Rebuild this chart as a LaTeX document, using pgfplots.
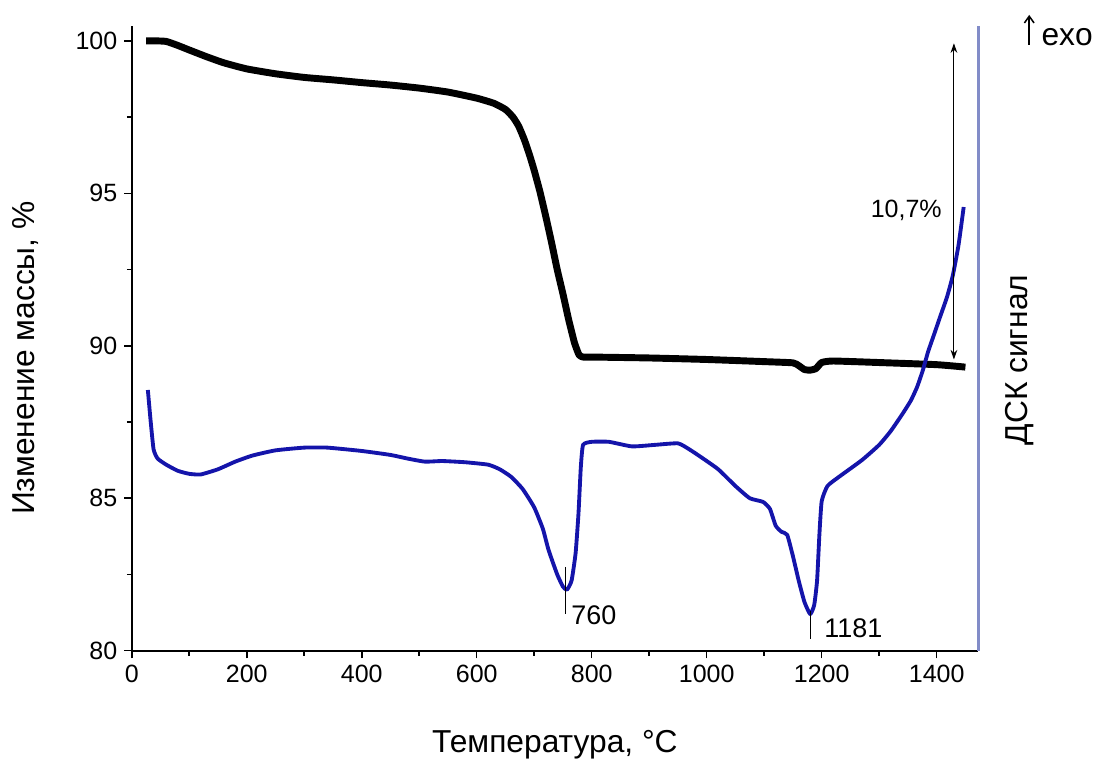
\documentclass[border=0pt]{standalone}
\usepackage{pgfplots}
\pgfplotsset{compat=1.18}
\usetikzlibrary{arrows.meta}
\usepackage{fontspec}
\setmainfont{Liberation Sans}
\definecolor{dscblue}{RGB}{20,20,170}
\definecolor{rightc}{RGB}{130,140,200}
\begin{document}
\begin{tikzpicture}
\begin{axis}[
 scale only axis, width=440pt, height=325pt,
 xmin=0, xmax=1472, ymin=80, ymax=100.5,
 axis x line*=bottom, axis y line*=left,
 axis line style={line width=1pt, -},
 xtick={0,200,...,1400}, ytick={80,85,...,100},
 minor xtick={100,300,...,1300}, minor ytick={82.5,87.5,92.5,97.5},
 tick align=outside, major tick length=4pt, minor tick length=2.5pt,
 every tick/.style={black, line width=0.8pt},
 tick label style={font=\fontsize{13}{15}\selectfont},
 /pgf/number format/assume math mode=true,
 /pgf/number format/set thousands separator={},
 clip=false,
 xlabel={Температура, °C}, ylabel={Изменение массы, \%},
 label style={font=\fontsize{16.5}{19}\selectfont},
 xlabel style={at={(axis description cs:0.500,-0.151)}, anchor=center},
 ylabel style={at={(axis description cs:-0.126,0.468)}, anchor=center},
]
\coordinate (sw) at (rel axis cs:0,0);
\coordinate (ne) at (rel axis cs:1,1);
\draw[line width=1.5pt, color=rightc] (rel axis cs:1,0) -- (rel axis cs:1,1);
% TG curve
\addplot[black, line width=3.6pt, line join=round, smooth, tension=0.3] coordinates {
(25,100.0) (40,100.0) (60,99.98) (80,99.85) (100,99.7) (130,99.48) (160,99.28)
(200,99.08) (250,98.92) (300,98.8) (350,98.72) (400,98.63) (450,98.55) (500,98.45)
(550,98.32) (600,98.12) (630,97.95) (650,97.75) (663,97.5) (673,97.2) (683,96.75)
(692,96.25) (700,95.75) (710,95.05) (720,94.25) (730,93.4) (740,92.5) (750,91.7)
(760,90.85) (770,90.1) (778,89.7) (785,89.63) (800,89.63) (900,89.6) (1000,89.55)
(1100,89.48) (1150,89.44) (1160,89.35) (1170,89.22) (1180,89.2) (1190,89.25)
(1200,89.45) (1220,89.5) (1300,89.45) (1400,89.38) (1450,89.3)
};
% DSC curve
\addplot[dscblue, line width=2pt, line join=round, smooth, tension=0.3] coordinates {
(28,88.55) (33,87.5) (38,86.6) (45,86.3) (60,86.1) (80,85.9) (100,85.8) (120,85.78)
(150,85.95) (180,86.2) (210,86.4) (250,86.57) (300,86.66) (340,86.66) (400,86.55)
(450,86.42) (480,86.3) (510,86.2) (540,86.22) (580,86.18) (620,86.1) (640,85.95)
(660,85.7) (680,85.3) (700,84.7) (715,84.0) (725,83.3) (740,82.5) (750,82.1)
(757,82.0) (765,82.3) (772,83.2) (777,84.5) (781,86.0) (785,86.75) (800,86.85)
(830,86.85) (870,86.7) (910,86.75) (950,86.8) (970,86.6) (990,86.35) (1020,85.95)
(1050,85.4) (1075,85.0) (1098,84.88) (1110,84.65) (1120,84.1) (1130,83.9) (1140,83.8)
(1150,83.1) (1160,82.3) (1170,81.6) (1180,81.2) (1187,81.5) (1192,82.3) (1196,83.8)
(1200,84.9) (1210,85.4) (1230,85.7) (1270,86.25) (1300,86.75) (1320,87.2) (1340,87.75)
(1355,88.2) (1366,88.65) (1376,89.2) (1385,89.8) (1396,90.4) (1406,90.95) (1418,91.6)
(1428,92.3) (1438,93.3) (1447,94.55)
};
% annotations
\draw[black, line width=0.5pt] (axis cs:755,82.75) -- (axis cs:755,81.2);
\node[anchor=west, inner sep=0pt, font=\fontsize{14}{16}\selectfont] at (axis cs:764,81.15) {760};
\draw[black, line width=0.5pt] (axis cs:1180,81.3) -- (axis cs:1180,80.4);
\node[anchor=west, inner sep=0pt, font=\fontsize{14}{16}\selectfont] at (axis cs:1204,80.74) {1181};
\draw[black, line width=0.6pt, {Stealth[length=5pt,width=3.5pt]}-{Stealth[length=5pt,width=3.5pt]}] (axis cs:1430,99.92) -- (axis cs:1430,89.55);
\node[font=\fontsize{13}{15}\selectfont] at (axis cs:1347,94.45) {10,7\%};
\node[rotate=90, font=\fontsize{16.5}{19}\selectfont] at (axis cs:1545,89.53) {ДСК сигнал};
\draw[black, line width=0.8pt, -{Straight Barb[length=3.5pt,width=5pt]}] (axis cs:1561,99.87) -- (axis cs:1561,100.85);
\node[font=\fontsize{16.5}{19}\selectfont] at (axis cs:1627,100.13) {exo};
\end{axis}
\pgfresetboundingbox
\path[use as bounding box] ([shift={(-68.5pt,-58.6pt)}]sw) rectangle ([shift={(63.4pt,13.3pt)}]ne);
\end{tikzpicture}
\end{document}
